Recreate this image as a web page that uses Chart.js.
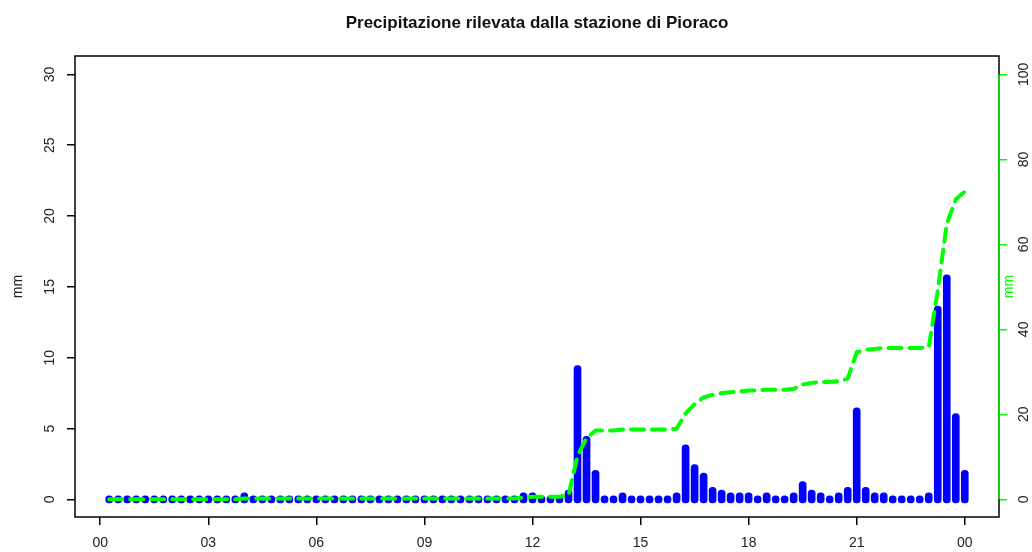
<!DOCTYPE html>
<html>
<head>
<meta charset="utf-8">
<script src="https://cdn.jsdelivr.net/npm/chart.js@4.4.1/dist/chart.umd.min.js"></script>
<style>
  html, body { margin: 0; padding: 0; background: #fff; }
  #wrap { width: 1032px; height: 552px; }
</style>
</head>
<body>
<div id="wrap"><canvas id="rainChart" width="1032" height="552"></canvas></div>
<script>
// quarter-hour steps of the day (hours)
const hours = [
  0.25, 0.5, 0.75, 1, 1.25, 1.5, 1.75, 2, 2.25, 2.5, 2.75, 3,
  3.25, 3.5, 3.75, 4, 4.25, 4.5, 4.75, 5, 5.25, 5.5, 5.75, 6,
  6.25, 6.5, 6.75, 7, 7.25, 7.5, 7.75, 8, 8.25, 8.5, 8.75, 9,
  9.25, 9.5, 9.75, 10, 10.25, 10.5, 10.75, 11, 11.25, 11.5, 11.75, 12,
  12.25, 12.5, 12.75, 13, 13.25, 13.5, 13.75, 14, 14.25, 14.5, 14.75, 15,
  15.25, 15.5, 15.75, 16, 16.25, 16.5, 16.75, 17, 17.25, 17.5, 17.75, 18,
  18.25, 18.5, 18.75, 19, 19.25, 19.5, 19.75, 20, 20.25, 20.5, 20.75, 21,
  21.25, 21.5, 21.75, 22, 22.25, 22.5, 22.75, 23, 23.25, 23.5, 23.75, 24
];

// rain per quarter hour (mm)
const rain = [
  0, 0, 0, 0, 0, 0, 0, 0, 0, 0, 0, 0,
  0, 0, 0, 0.2, 0, 0, 0, 0, 0, 0, 0, 0,
  0, 0, 0, 0, 0, 0, 0, 0, 0, 0, 0, 0,
  0, 0, 0, 0, 0, 0, 0, 0, 0, 0, 0.2, 0.2,
  0, 0, 0, 0.4, 9.2, 4.2, 1.8, 0, 0, 0.2, 0, 0,
  0, 0, 0, 0.2, 3.6, 2.2, 1.6, 0.6, 0.4, 0.2, 0.2, 0.2,
  0, 0.2, 0, 0, 0.2, 1.0, 0.4, 0.2, 0, 0.2, 0.6, 6.2,
  0.6, 0.2, 0.2, 0, 0, 0, 0, 0.2, 13.4, 15.6, 5.8, 1.8
];

// running total since midnight (mm)
const rainTotal = [
  0, 0, 0, 0, 0, 0, 0, 0, 0, 0, 0, 0,
  0, 0, 0, 0.2, 0.2, 0.2, 0.2, 0.2, 0.2, 0.2, 0.2, 0.2,
  0.2, 0.2, 0.2, 0.2, 0.2, 0.2, 0.2, 0.2, 0.2, 0.2, 0.2, 0.2,
  0.2, 0.2, 0.2, 0.2, 0.2, 0.2, 0.2, 0.2, 0.2, 0.2, 0.4, 0.6,
  0.6, 0.6, 0.6, 1.0, 10.2, 14.4, 16.2, 16.2, 16.2, 16.4, 16.4, 16.4,
  16.4, 16.4, 16.4, 16.6, 20.2, 22.4, 24.0, 24.6, 25.0, 25.2, 25.4, 25.6,
  25.6, 25.8, 25.8, 25.8, 26.0, 27.0, 27.4, 27.6, 27.6, 27.8, 28.4, 34.6,
  35.2, 35.4, 35.6, 35.6, 35.6, 35.6, 35.6, 35.8, 49.2, 64.8, 70.6, 72.4
];

const hourTicks = [0, 3, 6, 9, 12, 15, 18, 21, 24];
const hourLabels = ['00', '03', '06', '09', '12', '15', '18', '21', '00'];
const mmTicks = [0, 5, 10, 15, 20, 25, 30];
const totalTicks = [0, 20, 40, 60, 80, 100];

const FONT = '"Liberation Sans", Arial, Helvetica, sans-serif';
const GREEN = '#00ff00';
const BLUE = '#0000ff';
const capMm = 0.25; // round end of each stick, in mm

// tick labels, axis names, frame and title, R style
const rFrame = {
  id: 'rFrame',
  afterDraw(chart) {
    const { ctx, chartArea: a, scales } = chart;
    ctx.save();
    ctx.strokeStyle = '#000';
    ctx.lineWidth = 1.5;
    ctx.strokeRect(a.left, a.top, a.right - a.left, a.bottom - a.top);

    const y2 = scales.y2;
    ctx.strokeStyle = GREEN;
    ctx.beginPath();
    ctx.moveTo(a.right, y2.getPixelForValue(totalTicks[0]));
    ctx.lineTo(a.right, y2.getPixelForValue(totalTicks[totalTicks.length - 1]));
    ctx.stroke();

    ctx.font = '14px ' + FONT;
    ctx.textAlign = 'center';
    ctx.textBaseline = 'middle';
    const vText = (txt, x, y, color) => {
      ctx.save();
      ctx.fillStyle = color;
      ctx.translate(x, y);
      ctx.rotate(-Math.PI / 2);
      ctx.fillText(txt, 0, 0);
      ctx.restore();
    };
    mmTicks.forEach(v => vText(String(v), a.left - 25, scales.y.getPixelForValue(v), '#222'));
    totalTicks.forEach(v => vText(String(v), a.right + 25, y2.getPixelForValue(v), '#222'));
    const midY = (a.top + a.bottom) / 2;
    vText('mm', a.left - 57, midY, '#222');
    vText('mm', a.right + 10, midY, GREEN);

    ctx.font = 'bold 17px ' + FONT;
    ctx.fillStyle = '#111';
    ctx.fillText('Precipitazione rilevata dalla stazione di Pioraco', (a.left + a.right) / 2, 23);
    ctx.restore();
  }
};

const ctx = document.getElementById('rainChart').getContext('2d');

new Chart(ctx, {
  type: 'bar',
  data: {
    datasets: [
      {
        type: 'line',
        label: 'cumulata',
        data: hours.map((h, i) => ({ x: h, y: rainTotal[i] })),
        yAxisID: 'y2',
        borderColor: GREEN,
        borderWidth: 4,
        borderDash: [13, 8],
        borderCapStyle: 'round',
        borderJoinStyle: 'round',
        pointRadius: 0,
        fill: false,
        tension: 0,
        order: 0
      },
      {
        type: 'bar',
        label: 'mm',
        data: hours.map((h, i) => ({ x: h, y: [-capMm, rain[i] + capMm] })),
        yAxisID: 'y',
        backgroundColor: BLUE,
        barThickness: 7,
        borderRadius: 3.5,
        borderSkipped: false,
        order: 1
      }
    ]
  },
  options: {
    responsive: false,
    animation: false,
    devicePixelRatio: 1,
    layout: { padding: { top: 56, left: 0, right: 0, bottom: 0 }, autoPadding: false },
    plugins: {
      legend: { display: false },
      tooltip: { enabled: false },
      title: { display: false }
    },
    scales: {
      x: {
        type: 'linear',
        min: -0.7,
        max: 24.95,
        offset: false,
        afterBuildTicks: s => { s.ticks = hourTicks.map(v => ({ value: v })); },
        afterFit: s => { s.height = 35; },
        ticks: {
          callback: (v, i) => hourLabels[i],
          font: { family: FONT, size: 14 },
          color: '#222',
          padding: 10,
          autoSkip: false,
          maxRotation: 0
        },
        grid: { offset: false, drawOnChartArea: false, drawTicks: true, tickLength: 8, color: '#000', lineWidth: 1.5 },
        border: { display: false }
      },
      y: {
        type: 'linear',
        position: 'left',
        min: -1.25,
        max: 31.3,
        afterBuildTicks: s => { s.ticks = mmTicks.map(v => ({ value: v })); },
        afterFit: s => { s.width = 75; },
        ticks: { display: false },
        grid: { drawOnChartArea: false, drawTicks: true, tickLength: 8, color: '#000', lineWidth: 1.5 },
        border: { display: false }
      },
      y2: {
        type: 'linear',
        position: 'right',
        min: -1.25 * 100 / 30,
        max: 31.3 * 100 / 30,
        afterBuildTicks: s => { s.ticks = totalTicks.map(v => ({ value: v })); },
        afterFit: s => { s.width = 33; },
        ticks: { display: false },
        grid: { drawOnChartArea: false, drawTicks: true, tickLength: 8, color: GREEN, lineWidth: 1.5 },
        border: { display: false }
      }
    }
  },
  plugins: [rFrame]
});
</script>
</body>
</html>
